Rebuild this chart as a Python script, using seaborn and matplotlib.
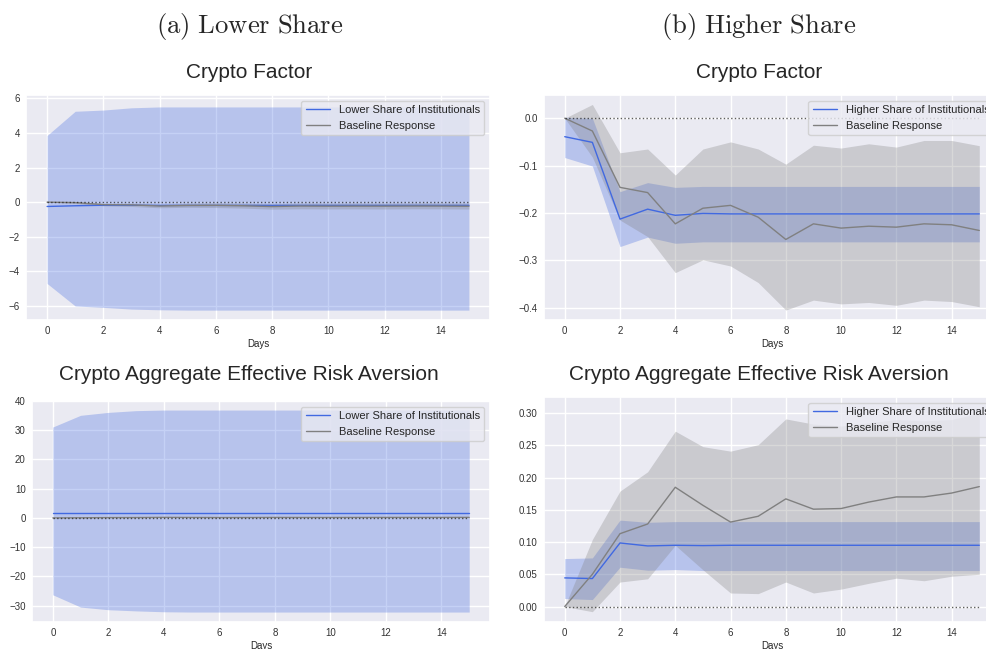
import numpy as np
import pandas as pd
import matplotlib
matplotlib.use("Agg")
import matplotlib.pyplot as plt
import seaborn as sns

# Impulse responses, days 0..15
days = list(range(16))

# Crypto Factor - baseline response (shared by both panels)
cf_base = [0.0, -0.027, -0.146, -0.157, -0.223, -0.190, -0.184, -0.209,
           -0.256, -0.223, -0.232, -0.228, -0.230, -0.223, -0.225, -0.237]
cf_base_hi = [0.0, 0.029, -0.073, -0.065, -0.120, -0.065, -0.050, -0.065,
              -0.097, -0.057, -0.063, -0.054, -0.061, -0.047, -0.047, -0.058]
cf_base_lo = [0.0, -0.082, -0.215, -0.250, -0.326, -0.299, -0.312, -0.347,
              -0.405, -0.384, -0.392, -0.389, -0.395, -0.384, -0.387, -0.398]

# Crypto Factor - lower share of institutionals
cf_low = [-0.25, -0.21, -0.18, -0.18, -0.19, -0.19, -0.19, -0.19,
          -0.19, -0.19, -0.19, -0.19, -0.19, -0.19, -0.19, -0.19]
cf_low_hi = [3.85, 5.25, 5.32, 5.45, 5.50, 5.50, 5.50, 5.50,
             5.50, 5.50, 5.50, 5.50, 5.50, 5.50, 5.50, 5.50]
cf_low_lo = [-4.70, -6.00, -6.08, -6.18, -6.22, -6.24, -6.24, -6.24,
             -6.24, -6.24, -6.24, -6.24, -6.24, -6.24, -6.24, -6.24]

# Crypto Factor - higher share of institutionals
cf_high = [-0.039, -0.051, -0.213, -0.192, -0.205, -0.201, -0.202, -0.202,
           -0.202, -0.202, -0.202, -0.202, -0.202, -0.202, -0.202, -0.202]
cf_high_hi = [0.002, 0.0, -0.155, -0.136, -0.146, -0.144, -0.144, -0.144,
              -0.144, -0.144, -0.144, -0.144, -0.144, -0.144, -0.144, -0.144]
cf_high_lo = [-0.083, -0.101, -0.271, -0.251, -0.264, -0.261, -0.261, -0.261,
              -0.261, -0.261, -0.261, -0.261, -0.261, -0.261, -0.261, -0.261]

# Risk aversion - baseline response
ra_base = [0.0, 0.050, 0.113, 0.128, 0.185, 0.157, 0.131, 0.140,
           0.167, 0.151, 0.152, 0.162, 0.170, 0.170, 0.176, 0.186]
ra_base_hi = [0.0, 0.104, 0.179, 0.209, 0.272, 0.248, 0.241, 0.251,
              0.291, 0.283, 0.280, 0.285, 0.290, 0.288, 0.290, 0.300]
ra_base_lo = [0.0, -0.008, 0.038, 0.043, 0.095, 0.057, 0.021, 0.020,
              0.038, 0.021, 0.027, 0.036, 0.044, 0.040, 0.047, 0.050]

# Risk aversion - lower share of institutionals
ra_low = [1.8] * 16
ra_low_hi = [31.1, 35.1, 36.1, 36.7, 36.9, 36.9, 36.9, 36.9,
             36.9, 36.9, 36.9, 36.9, 36.9, 36.9, 36.9, 36.9]
ra_low_lo = [-26.3, -30.5, -31.4, -31.8, -32.1, -32.2, -32.2, -32.2,
             -32.2, -32.2, -32.2, -32.2, -32.2, -32.2, -32.2, -32.2]

# Risk aversion - higher share of institutionals
ra_high = [0.0444, 0.0434, 0.0986, 0.094, 0.095, 0.0945, 0.095, 0.095,
           0.095, 0.095, 0.095, 0.095, 0.095, 0.095, 0.095, 0.095]
ra_high_hi = [0.0744, 0.0754, 0.134, 0.1306, 0.1317, 0.1317, 0.1317, 0.1317,
              0.1317, 0.1317, 0.1317, 0.1317, 0.1317, 0.1317, 0.1317, 0.1317]
ra_high_lo = [0.0124, 0.0108, 0.061, 0.0563, 0.0573, 0.0558, 0.0558, 0.0558,
              0.0558, 0.0558, 0.0558, 0.0558, 0.0558, 0.0558, 0.0558, 0.0558]

sns.set_theme(style="darkgrid")
plt.rcParams["font.family"] = ["Liberation Sans", "DejaVu Sans"]
plt.rcParams["mathtext.fontset"] = "cm"

W, H = 987, 649
fig = plt.figure(figsize=(W / 100, H / 100), dpi=100)


def add_ax(left, right, top, bottom):
    return fig.add_axes([left / W, 1 - bottom / H, (right - left) / W, (bottom - top) / H])


def irf_panel(ax, resp, hi, lo, base, base_hi, base_lo, label, ylim):
    df = pd.DataFrame({"day": days, "resp": resp, "base": base})
    ax.fill_between(days, lo, hi, color="royalblue", alpha=0.3, lw=0)
    ax.fill_between(days, base_lo, base_hi, color="grey", alpha=0.3, lw=0)
    sns.lineplot(data=df, x="day", y="resp", ax=ax, color="royalblue", lw=1, label=label)
    sns.lineplot(data=df, x="day", y="base", ax=ax, color="grey", lw=1, label="Baseline Response")
    ax.plot(days, [0] * len(days), color="k", ls=":", lw=1, alpha=0.7)
    ax.set_xlim(-0.75, 15.75)
    ax.set_ylim(*ylim)
    ax.set_xticks(range(0, 16, 2))
    ax.set_xlabel("Days", fontsize=7, labelpad=2)
    ax.set_ylabel("")
    ax.tick_params(labelsize=7, length=0, pad=4.5, labelcolor="#333333")
    ax.legend(loc="upper right", fontsize=8, borderaxespad=0.5, handlelength=2.2)


ax1 = add_ax(26, 490, 95, 320)
irf_panel(ax1, cf_low, cf_low_hi, cf_low_lo, cf_base, cf_base_hi, cf_base_lo,
          "Lower Share of Institutionals", (-6.81, 6.19))
ax1.set_yticks(range(-6, 7, 2))

ax2 = add_ax(544, 1000, 95, 320)
irf_panel(ax2, cf_high, cf_high_hi, cf_high_lo, cf_base, cf_base_hi, cf_base_lo,
          "Higher Share of Institutionals", (-0.426, 0.049))
ax2.set_yticks([-0.4, -0.3, -0.2, -0.1, 0.0])

ax3 = add_ax(32, 490, 401, 622)
irf_panel(ax3, ra_low, ra_low_hi, ra_low_lo, ra_base, ra_base_hi, ra_base_lo,
          "Lower Share of Institutionals", (-35.6, 39.9))
ax3.set_yticks(range(-30, 41, 10))

ax4 = add_ax(544, 1000, 397, 622)
irf_panel(ax4, ra_high, ra_high_hi, ra_high_lo, ra_base, ra_base_hi, ra_base_lo,
          "Higher Share of Institutionals", (-0.024, 0.325))
ax4.set_yticks([0.0, 0.05, 0.10, 0.15, 0.20, 0.25, 0.30])
ax4.set_yticklabels(["0.00", "0.05", "0.10", "0.15", "0.20", "0.25", "0.30"])

# captions and panel titles
fig.text(249.5 / W, 1 - 26 / H, r"$\mathrm{(a)\ Lower\ Share}$", ha="center", va="center", fontsize=19.2)
fig.text(759 / W, 1 - 26 / H, r"$\mathrm{(b)\ Higher\ Share}$", ha="center", va="center", fontsize=19.2)
fig.text(249.5 / W, 1 - 78 / H, "Crypto Factor", ha="center", va="baseline", fontsize=15, color="#262626")
fig.text(759.5 / W, 1 - 78 / H, "Crypto Factor", ha="center", va="baseline", fontsize=15, color="#262626")
fig.text(249 / W, 1 - 380 / H, "Crypto Aggregate Effective Risk Aversion", ha="center", va="baseline",
         fontsize=15, color="#262626")
fig.text(759 / W, 1 - 380 / H, "Crypto Aggregate Effective Risk Aversion", ha="center", va="baseline",
         fontsize=15, color="#262626")

fig.savefig("out.png", dpi=100)
